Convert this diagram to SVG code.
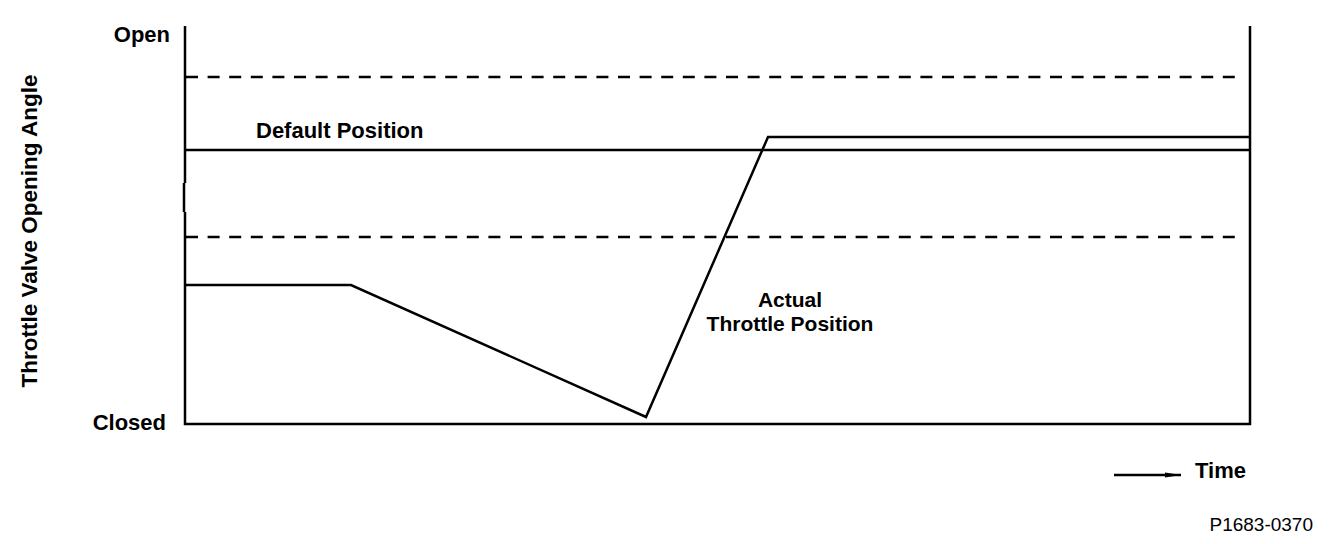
<svg xmlns="http://www.w3.org/2000/svg" width="1344" height="544" viewBox="0 0 1344 544">
<style>
.t{font-family:"Liberation Sans",Arial,sans-serif;font-weight:bold;font-size:22px;fill:#000}
.r{font-family:"Liberation Sans",Arial,sans-serif;font-size:19px;fill:#000}
.ln{stroke:#000;stroke-width:2.5;fill:none}
.ds{stroke:#000;stroke-width:2.5;fill:none;stroke-dasharray:12 9.6}
</style>
<defs>
<marker id="ah" markerWidth="16" markerHeight="8" refX="16" refY="4" orient="auto" markerUnits="userSpaceOnUse">
<path d="M0,1.5 L16,4 L0,6.5 Z" fill="#000"/>
</marker>
</defs>
<rect width="1344" height="544" fill="#fff"/>
<g id="frame">
<path class="ln" d="M185,26 V183 M184,183 V212 M185,212 V424 H1250 V26"/>
</g>
<g id="limits">
<line class="ds" x1="186" y1="77" x2="1242" y2="77"/>
<line class="ds" x1="186" y1="237" x2="1242" y2="237"/>
</g>
<g id="default-position">
<line class="ln" x1="185" y1="150" x2="1250" y2="150"/>
<text class="t" x="256" y="138">Default Position</text>
</g>
<g id="actual-position">
<polyline class="ln" points="185,285 351,285 646,417 768,137 1250,137"/>
<text class="t" style="font-size:21px" x="790" y="307" text-anchor="middle">Actual</text>
<text class="t" style="font-size:21px" x="790" y="330.5" text-anchor="middle">Throttle Position</text>
</g>
<g id="labels">
<text class="t" x="170" y="42" text-anchor="end">Open</text>
<text class="t" x="166" y="430" text-anchor="end">Closed</text>
<text class="t" style="font-size:22.5px" transform="translate(37,231) rotate(-90)" text-anchor="middle">Throttle Valve Opening Angle</text>
<text class="t" x="1195" y="478">Time</text>
<text class="r" x="1313" y="531" text-anchor="end">P1683-0370</text>
</g>
<g id="connectors">
<line x1="1114" y1="475" x2="1181" y2="475" stroke="#000" stroke-width="2.5" marker-end="url(#ah)"/>
</g>
</svg>
